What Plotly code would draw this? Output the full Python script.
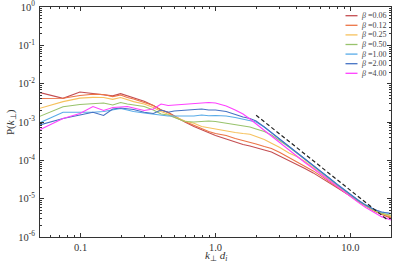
import plotly.graph_objects as go

# ---- data ----
k = [0.0494, 0.0741, 0.0988, 0.1235, 0.148, 0.173, 0.198, 0.222, 0.247, 0.296,
     0.346, 0.395, 0.445, 0.494, 0.593, 0.692, 0.79, 0.89, 1.0, 1.2,
     1.4, 1.6, 1.8, 2.0, 2.3, 2.6, 3.0, 3.5, 4.0, 4.6,
     5.3, 6.0, 7.0, 8.0, 9.0, 10.0, 11.5, 13.0, 15.0, 17.0, 20.0]

P_b006 = [5.9e-3, 4.15e-3, 6.06e-3, 5.5e-3, 5.06e-3, 4.8e-3, 5.5e-3, 4.8e-3, 4.35e-3, 3.5e-3,
          2.7e-3, 2.06e-3, 1.8e-3, 1.43e-3, 1.0e-3, 7.6e-4, 6.2e-4, 5.2e-4, 4.45e-4, 3.6e-4,
          3.0e-4, 2.6e-4, 2.37e-4, 2.1e-4, 1.86e-4, 1.65e-4, 1.3e-4, 9.6e-5, 7.8e-5, 6.1e-5,
          4.7e-5, 3.6e-5, 2.56e-5, 1.9e-5, 1.49e-5, 1.17e-5, 8.4e-6, 6.4e-6, 4.8e-6, 3.9e-6, 3.1e-6]
P_b012 = [4.1e-3, 4.15e-3, 4.9e-3, 5.3e-3, 5.2e-3, 4.6e-3, 5.06e-3, 4.35e-3, 4.0e-3, 3.3e-3,
          2.7e-3, 2.06e-3, 1.77e-3, 1.35e-3, 1.03e-3, 8.35e-4, 6.85e-4, 5.65e-4, 5.0e-4, 4.45e-4,
          3.7e-4, 3.3e-4, 2.96e-4, 2.67e-4, 2.3e-4, 2.04e-4, 1.6e-4, 1.19e-4, 9.3e-5, 6.9e-5,
          5.3e-5, 4.0e-5, 2.8e-5, 2.0e-5, 1.54e-5, 1.17e-5, 8.4e-6, 6.4e-6, 4.9e-6, 4.0e-6, 3.3e-6]
P_b025 = [2.25e-3, 3.4e-3, 4.2e-3, 4.4e-3, 4.35e-3, 3.9e-3, 4.35e-3, 3.75e-3, 3.4e-3, 2.95e-3,
          2.4e-3, 1.88e-3, 1.62e-3, 1.39e-3, 1.06e-3, 9.25e-4, 7.6e-4, 7.0e-4, 6.6e-4, 5.8e-4,
          5.3e-4, 5.0e-4, 4.8e-4, 4.2e-4, 3.5e-4, 2.8e-4, 2.16e-4, 1.55e-4, 1.26e-4, 9.3e-5,
          6.5e-5, 4.7e-5, 3.1e-5, 2.14e-5, 1.58e-5, 1.21e-5, 8.4e-6, 6.4e-6, 4.9e-6, 4.1e-6, 3.5e-6]
P_b050 = [1.39e-3, 2.5e-3, 2.86e-3, 3.07e-3, 3.13e-3, 2.77e-3, 3.22e-3, 2.95e-3, 2.77e-3, 2.53e-3,
          2.06e-3, 1.62e-3, 1.52e-3, 1.31e-3, 1.03e-3, 1.0e-3, 1.03e-3, 1.06e-3, 1.03e-3, 9.4e-4,
          8.6e-4, 7.9e-4, 7.4e-4, 6.6e-4, 5.65e-4, 4.6e-4, 3.3e-4, 2.23e-4, 1.55e-4, 1.05e-4,
          7.1e-5, 5.0e-5, 3.3e-5, 2.27e-5, 1.63e-5, 1.25e-5, 8.7e-6, 6.6e-6, 5.1e-6, 4.2e-6, 3.7e-6]
P_b100 = [9.4e-4, 1.79e-3, 1.79e-3, 1.79e-3, 1.88e-3, 2.12e-3, 2.25e-3, 2.06e-3, 1.88e-3, 1.71e-3,
          1.57e-3, 1.52e-3, 1.43e-3, 1.43e-3, 1.46e-3, 1.43e-3, 1.52e-3, 1.46e-3, 1.48e-3, 1.43e-3,
          1.31e-3, 1.2e-3, 1.1e-3, 1.0e-3, 7.4e-4, 5.3e-4, 3.6e-4, 2.37e-4, 1.6e-4, 1.08e-4,
          7.3e-5, 5.1e-5, 3.35e-5, 2.31e-5, 1.68e-5, 1.28e-5, 8.95e-6, 6.8e-6, 5.2e-6, 4.5e-6, 4.1e-6]
P_b200 = [8.35e-4, 1.23e-3, 1.52e-3, 1.8e-3, 1.48e-3, 2.18e-3, 2.32e-3, 2.18e-3, 2.12e-3, 1.8e-3,
          1.67e-3, 2.06e-3, 1.8e-3, 1.94e-3, 2.0e-3, 2.06e-3, 2.18e-3, 2.06e-3, 2.06e-3, 1.88e-3,
          1.57e-3, 1.35e-3, 1.23e-3, 1.06e-3, 7.4e-4, 5.3e-4, 3.6e-4, 2.37e-4, 1.62e-4, 1.09e-4,
          7.3e-5, 5.2e-5, 3.4e-5, 2.33e-5, 1.68e-5, 1.28e-5, 8.95e-6, 6.8e-6, 5.2e-6, 4.5e-6, 4.1e-6]
P_b400 = [6.2e-4, 1.23e-3, 1.67e-3, 2.53e-3, 2.0e-3, 2.4e-3, 2.46e-3, 2.53e-3, 2.32e-3, 2.0e-3,
          2.18e-3, 2.95e-3, 2.7e-3, 2.77e-3, 2.86e-3, 2.95e-3, 3.13e-3, 3.22e-3, 3.13e-3, 2.6e-3,
          2.06e-3, 1.62e-3, 1.2e-3, 8.9e-4, 6.0e-4, 4.3e-4, 2.83e-4, 1.86e-4, 1.3e-4, 8.8e-5,
          6.1e-5, 4.4e-5, 2.9e-5, 2.0e-5, 1.49e-5, 1.14e-5, 7.9e-6, 5.9e-6, 4.35e-6, 3.4e-6, 2.8e-6]

series_labels = ["0.06", "0.12", "0.25", "0.50", "1.00", "2.00", "4.00"]
series_values = [P_b006, P_b012, P_b025, P_b050, P_b100, P_b200, P_b400]
series_colors = ["#c44e52", "#ec7446", "#f6c25e", "#98c36c", "#58abe8", "#4572c4", "#ff40ff"]

fit_k = [2.0, 19.0]
fit_P = [1.5e-3, 2.74e-6]
fit_label = "<i>k</i><sub>⊥</sub><sup>−2.8</sup>"
fit_label_pos = (7.4, 1.45e-4)

xtick_vals = [0.1, 1.0, 10.0]
xtick_text = ["0.1", "1.0", "10.0"]
ytick_vals = [1e-6, 1e-5, 1e-4, 1e-3, 1e-2, 1e-1, 1]
ytick_text = ["10<sup>-6</sup>", "10<sup>-5</sup>", "10<sup>-4</sup>", "10<sup>-3</sup>",
              "10<sup>-2</sup>", "10<sup>-1</sup>", "10<sup>0</sup>"]

FONT = "Liberation Serif, Times New Roman, serif"
AX = "#333333"
TXT = "#333333"

fig = go.Figure()
for lab, vals, col in zip(series_labels, series_values, series_colors):
    fig.add_trace(go.Scatter(x=k, y=vals, mode="lines", name=lab,
                             line=dict(color=col, width=1.1)))
fig.add_trace(go.Scatter(x=fit_k, y=fit_P, mode="lines",
                         line=dict(color="#222222", width=1.2, dash="4px,2.5px")))

fig.add_annotation(x=fit_label_pos[0], y=fit_label_pos[1], xref="x", yref="y",
                   text=fit_label, showarrow=False,
                   font=dict(family=FONT, size=11, color=TXT))

# geometry of the plot area (pixels)
W, H, L, T = 399, 263, 40, 7
pw, ph = 351, 230

# manual compact legend (top right)
leg_y0, leg_dy = 15.7, 9.6
for i, (lab, col) in enumerate(zip(series_labels, series_colors)):
    ypx = leg_y0 + i * leg_dy
    yp = (T + ph - ypx) / ph
    fig.add_shape(type="line", xref="paper", yref="paper",
                  x0=(345.5 - L) / pw, x1=(357.5 - L) / pw, y0=yp, y1=yp,
                  line=dict(color=col, width=1.3))
    fig.add_annotation(x=(359 - L) / pw, y=yp, xref="paper", yref="paper",
                       xanchor="left", yanchor="middle", showarrow=False,
                       text="<i>β</i> =" + lab,
                       font=dict(family=FONT, size=8, color="#444444"))

# axis titles as annotations
fig.add_annotation(x=0.5, y=(T + ph - 256) / ph, xref="paper", yref="paper",
                   xanchor="center", yanchor="middle", showarrow=False,
                   text="<i>k</i><sub>⊥</sub> <i>d</i><sub><i>i</i></sub>",
                   font=dict(family=FONT, size=11, color=TXT))
fig.add_annotation(x=(11 - L) / pw, y=0.5, xref="paper", yref="paper",
                   xanchor="center", yanchor="middle", showarrow=False, textangle=-90,
                   text="P(<i>k</i><sub>⊥</sub>)",
                   font=dict(family=FONT, size=11, color=TXT))

minor_x = [m * 10 ** e for e in (-2, -1, 0, 1) for m in range(2, 10)]
minor_y = [m * 10.0 ** e for e in range(-6, 0) for m in range(2, 10)]

fig.update_xaxes(type="log", range=[-1.30103, 1.30103], automargin=False,
                 tickmode="array", tickvals=xtick_vals, ticktext=xtick_text,
                 ticks="inside", ticklen=4, tickwidth=1, tickcolor=AX,
                 minor=dict(tickmode="array", tickvals=minor_x, ticks="inside",
                            ticklen=2, tickcolor=AX, showgrid=False),
                 showline=True, linecolor=AX, linewidth=1, mirror="allticks",
                 showgrid=False, zeroline=False, ticklabeloverflow="allow",
                 tickfont=dict(family=FONT, size=10.5, color=TXT))
fig.update_yaxes(type="log", range=[-6, 0], automargin=False,
                 tickmode="array", tickvals=ytick_vals, ticktext=ytick_text,
                 ticks="inside", ticklen=4, tickwidth=1, tickcolor=AX,
                 minor=dict(tickmode="array", tickvals=minor_y, ticks="inside",
                            ticklen=2, tickcolor=AX, showgrid=False),
                 showline=True, linecolor=AX, linewidth=1, mirror="allticks",
                 showgrid=False, zeroline=False, ticklabelstandoff=2,
                 ticklabeloverflow="allow",
                 tickfont=dict(family=FONT, size=10.5, color=TXT))

fig.update_layout(width=W, height=H, margin=dict(l=L, r=W - L - pw, t=T, b=H - T - ph),
                  paper_bgcolor="white", plot_bgcolor="white", showlegend=False)

fig.write_html("out.html", config={"displayModeBar": False},
               post_script="document.body.style.margin='0';document.body.style.padding='0';")
